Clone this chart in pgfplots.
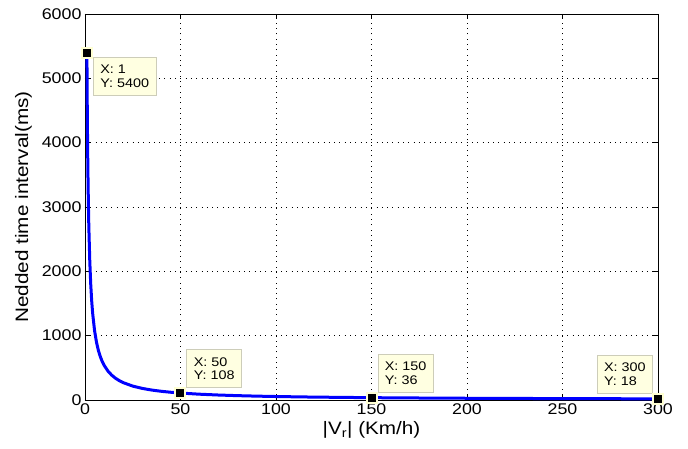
\documentclass[border=0pt]{standalone}
\usepackage{fontspec}
\setmainfont{Liberation Sans}[FakeStretch=1.15]
\usepackage{pgfplots}
\pgfplotsset{compat=1.18}
\definecolor{tipbg}{RGB}{255,255,225}
\definecolor{tipbd}{RGB}{205,205,185}
\definecolor{mkbd}{RGB}{255,255,210}
\begin{document}
\begin{tikzpicture}[x=1pt,y=1pt]
\useasboundingbox (-85,-49) rectangle (603,400);
\begin{axis}[
  at={(0,0)}, anchor=south west,
  scale only axis, width=573pt, height=386pt,
  xmin=0, xmax=300, ymin=0, ymax=6000,
  xtick={0,50,...,300}, ytick={0,1000,...,6000},
  tick align=inside, tick pos=both,
  major tick length=5pt,
  grid=major,
  major grid style={black, line width=0.5pt, dash pattern=on 0.8pt off 4.5pt},
  axis line style={black, line width=0.7pt},
  tick style={black, line width=0.6pt},
  /pgf/number format/assume math mode=true,
  /pgf/number format/1000 sep={},
  tick label style={font=\fontsize{15.5}{17}\selectfont},
  xlabel={|V\textsubscript{r}| (Km/h)},
  ylabel={Nedded time interval(ms)},
  label style={font=\fontsize{18}{20}\selectfont},
  ylabel style={xshift=0pt, yshift=3pt},
  clip=false,
]
\addplot[blue, line width=3pt, line join=round] coordinates {
(1,5400) (1.1,4909) (1.2,4500) (1.35,4000) (1.5,3600) (1.8,3000) (2,2700) (2.5,2160)
(3,1800) (3.5,1542.9) (4,1350) (5,1080) (6,900) (7,771.4) (8,675) (9,600)
(10,540) (12,450) (14,385.7) (16,337.5) (18,300) (20,270) (25,216) (30,180)
(35,154.3) (40,135) (45,120) (50,108) (60,90) (70,77.1) (80,67.5) (90,60)
(100,54) (120,45) (150,36) (180,30) (200,27) (250,21.6) (300,18)
};
\addplot[only marks, mark=square*, mark size=5pt,
  mark options={fill=black, draw=mkbd, line width=2pt}] coordinates {
(1,5400) (50,108) (150,36) (300,18)
};
\tikzset{tip/.style={draw=tipbd, fill=tipbg, line width=0.8pt, align=left,
  inner xsep=7pt, inner ysep=8pt, font=\fontsize{12.5}{13.5}\selectfont}}
\node[tip, anchor=north west, xshift=6pt, yshift=-4pt] at (axis cs:1,5400) {X: 1\\Y: 5400};
\node[tip, anchor=south west, xshift=6pt, yshift=5pt] at (axis cs:50,108) {X: 50\\Y: 108};
\node[tip, anchor=south west, xshift=6pt, yshift=5pt] at (axis cs:150,36) {X: 150\\Y: 36};
\node[tip, anchor=south east, xshift=-5pt, yshift=5pt] at (axis cs:300,18) {X: 300\\Y: 18};
\end{axis}
\end{tikzpicture}
\end{document}
